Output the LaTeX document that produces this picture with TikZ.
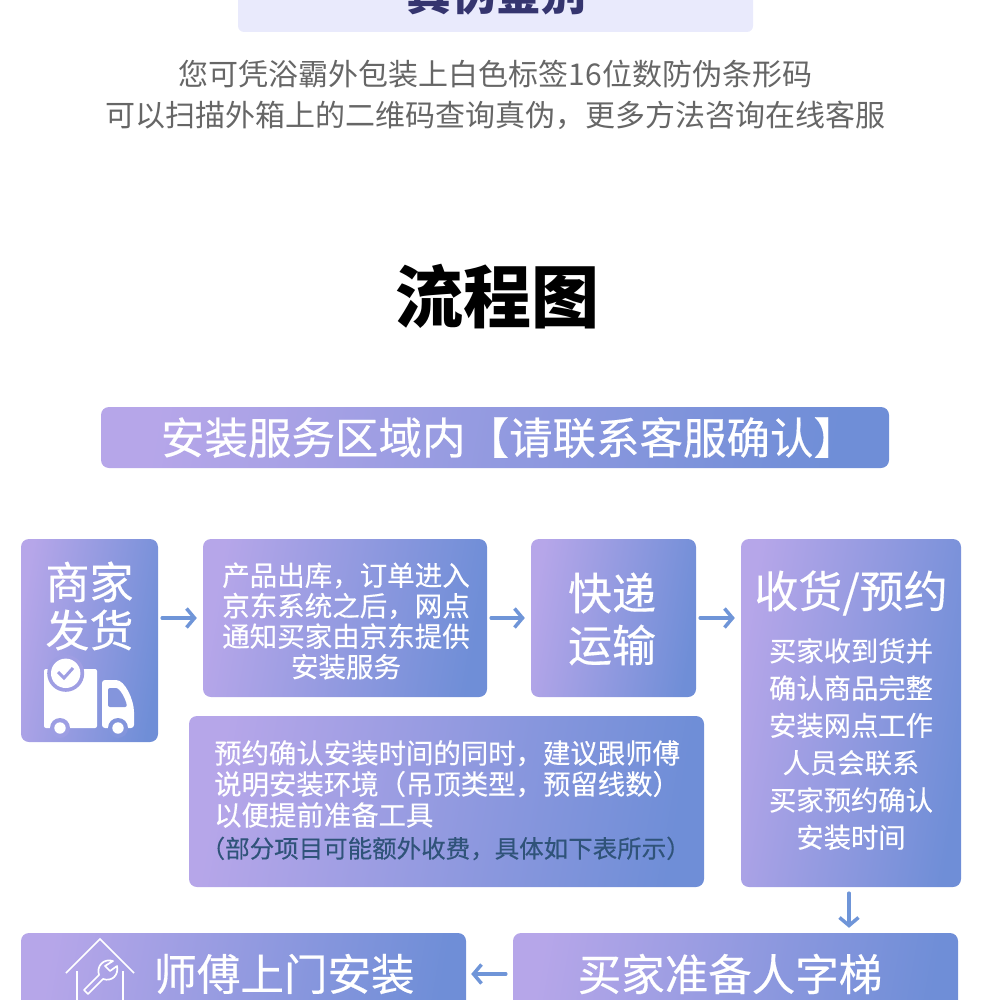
\documentclass[tikz,border=0pt]{standalone}
\usepackage{fontspec}
\setmainfont{Noto Sans CJK SC}
\newfontfamily\heavycjk[FakeBold=0.35]{Noto Sans CJK SC}
\usetikzlibrary{arrows.meta}

\definecolor{boxleft}{HTML}{B6A6E9}
\definecolor{boxright}{HTML}{6F8ED7}
\definecolor{arrowblue}{HTML}{6F95D8}
\definecolor{headerfill}{HTML}{E9EAFC}
\definecolor{headertext}{HTML}{35356F}
\definecolor{notetext}{HTML}{2F5379}

\newcommand{\fsize}[2]{\fontsize{#1}{#2}\selectfont}

\begin{document}
\begin{tikzpicture}[
  x=1pt, y=-1pt,
  flowbox/.style={left color=boxleft, right color=boxright, shading angle=80, rounded corners=8pt, inner sep=0pt, text=white, align=center},
  boxtext/.style={text=white, inner sep=0pt},
  arrow/.style={-{Straight Barb[length=8pt, width=19pt, line width=3.5pt]}, line width=3.5pt, arrowblue, line cap=round, shorten >=6pt, shorten <=4pt},
  iconline/.style={draw=white, line width=1.7pt}
]
\useasboundingbox (0,0) rectangle (990,1000);
\clip (0,0) rectangle (990,1000);

% Header
\node[fill=headerfill, rounded corners=6pt, minimum width=515pt, minimum height=62pt, inner sep=0pt] (header) at (495.5,1) {};
\node[text=headertext, font=\fsize{45}{50}\bfseries, inner sep=0pt] (headertitle) at (496,-6) {真伪鉴别};
\node[text=black!60, font=\fsize{30}{41}, align=center, inner sep=0pt] (hint) at (495.5,95) {您可凭浴霸外包装上白色标签16位数防伪条形码\\可以扫描外箱上的二维码查询真伪，更多方法咨询在线客服};

% Title
\node[font=\fsize{68}{72}\bfseries, text=black, inner sep=0pt] (title) at (497,297) {流程图};
\node[flowbox, minimum width=788pt, minimum height=61pt] (banner) at (495,437.5) {};
\node[boxtext, font=\heavycjk\fsize{43.5}{48}] (bannertext) at (509,437.5) {安装服务区域内【请联系客服确认】};

% Flow boxes
\node[flowbox, minimum width=137pt, minimum height=203pt] (merchant) at (89.5,640.5) {};
\node[flowbox, minimum width=284pt, minimum height=158pt] (outbound) at (345,618) {};
\node[flowbox, minimum width=165pt, minimum height=158pt] (transport) at (613.5,618) {};
\node[flowbox, minimum width=220pt, minimum height=348pt] (receive) at (851,713) {};
\node[flowbox, minimum width=515pt, minimum height=171pt] (notice) at (446.5,801.5) {};
\node[flowbox, minimum width=445pt, minimum height=100pt] (master) at (243.5,983) {};
\node[flowbox, minimum width=445pt, minimum height=100pt] (ladder) at (735.5,983) {};

% Box texts
\node[boxtext, font=\heavycjk\fsize{44}{48}, align=center] (merchanttext) at (89.5,606) {商家\\发货};
\node[boxtext, font=\heavycjk\fsize{27.5}{30.5}, align=center] (outboundtext) at (346,621) {产品出库，订单进入\\京东系统之后，网点\\通知买家由京东提供\\安装服务};
\node[boxtext, font=\heavycjk\fsize{44}{52}, align=center] (transporttext) at (612,619) {快递\\运输};
\node[boxtext, font=\heavycjk\fsize{44}{48}] (receivetitle) at (851,593) {收货/预约};
\node[boxtext, font=\heavycjk\fsize{27.3}{37.3}, align=center] (receivetext) at (851,744) {买家收到货并\\确认商品完整\\安装网点工作\\人员会联系\\买家预约确认\\安装时间};
\node[boxtext, font=\heavycjk\fsize{27.4}{31}, align=left, anchor=west] (noticetext) at (214,784) {预约确认安装时间的同时，建议跟师傅\\说明安装环境（吊顶类型，预留线数）\\以便提前准备工具};
\node[text=notetext, font=\heavycjk\fsize{24.5}{28}, inner sep=0pt, anchor=west] (notetext) at (200.5,848.5) {（部分项目可能额外收费，具体如下表所示）};
\node[boxtext, font=\heavycjk\fsize{43.5}{48}] (mastertext) at (284,974) {师傅上门安装};
\node[boxtext, font=\heavycjk\fsize{43.5}{48}] (laddertext) at (730,974) {买家准备人字梯};

% Truck icon
\fill[white, rounded corners=2pt] (44,669) rectangle (97,728);
\fill[white, rounded corners=3pt] (102,680) -- (113,680) .. controls (125,680) and (134,700) .. (134,715) -- (134,728) -- (102,728) -- cycle;
\fill[boxleft!30!boxright, rounded corners=2pt] (108,688) -- (114,688) .. controls (120,688) and (126,700) .. (127,707) -- (108,707) -- cycle;
\fill[boxleft!68!boxright] (65.7,673.3) circle (18.5);
\fill[white] (65.7,673.3) circle (14.7);
\draw[boxleft!68!boxright, line width=3pt] (58,672) -- (64,678) -- (73,668);
\fill[boxleft!65!boxright] (60,728) circle (10);
\fill[white] (60,728) circle (5.7);
\fill[boxleft!28!boxright] (118,728) circle (10);
\fill[white] (118,728) circle (5.7);

% House icon
\draw[iconline] (66,973) -- (100,939) -- (134,973);
\draw[iconline] (77,971) -- (77,1001);
\draw[iconline] (123,971) -- (123,1001);
\draw[iconline, line join=round] (113,961) .. controls (104,958) and (96,966) .. (99,975) -- (84,990) -- (88,994) -- (103,979) .. controls (112,982) and (119,975) .. (117,966) -- (110,971) -- (105,966) -- cycle;

% Arrows between boxes
\coordinate (downstart) at ([xshift=-2pt]receive.south);
\draw[arrow] (merchant.east |- outbound) -- (outbound);
\draw[arrow] (outbound) -- (transport);
\draw[arrow] (transport) -- (receive.west |- transport);
\draw[arrow, shorten >=5pt, shorten <=6pt] (downstart) -- (downstart |- ladder.north);
\draw[arrow, shorten >=5pt, shorten <=7pt] (ladder.west |- mastertext) -- (master.east |- mastertext);

\end{tikzpicture}
\end{document}
